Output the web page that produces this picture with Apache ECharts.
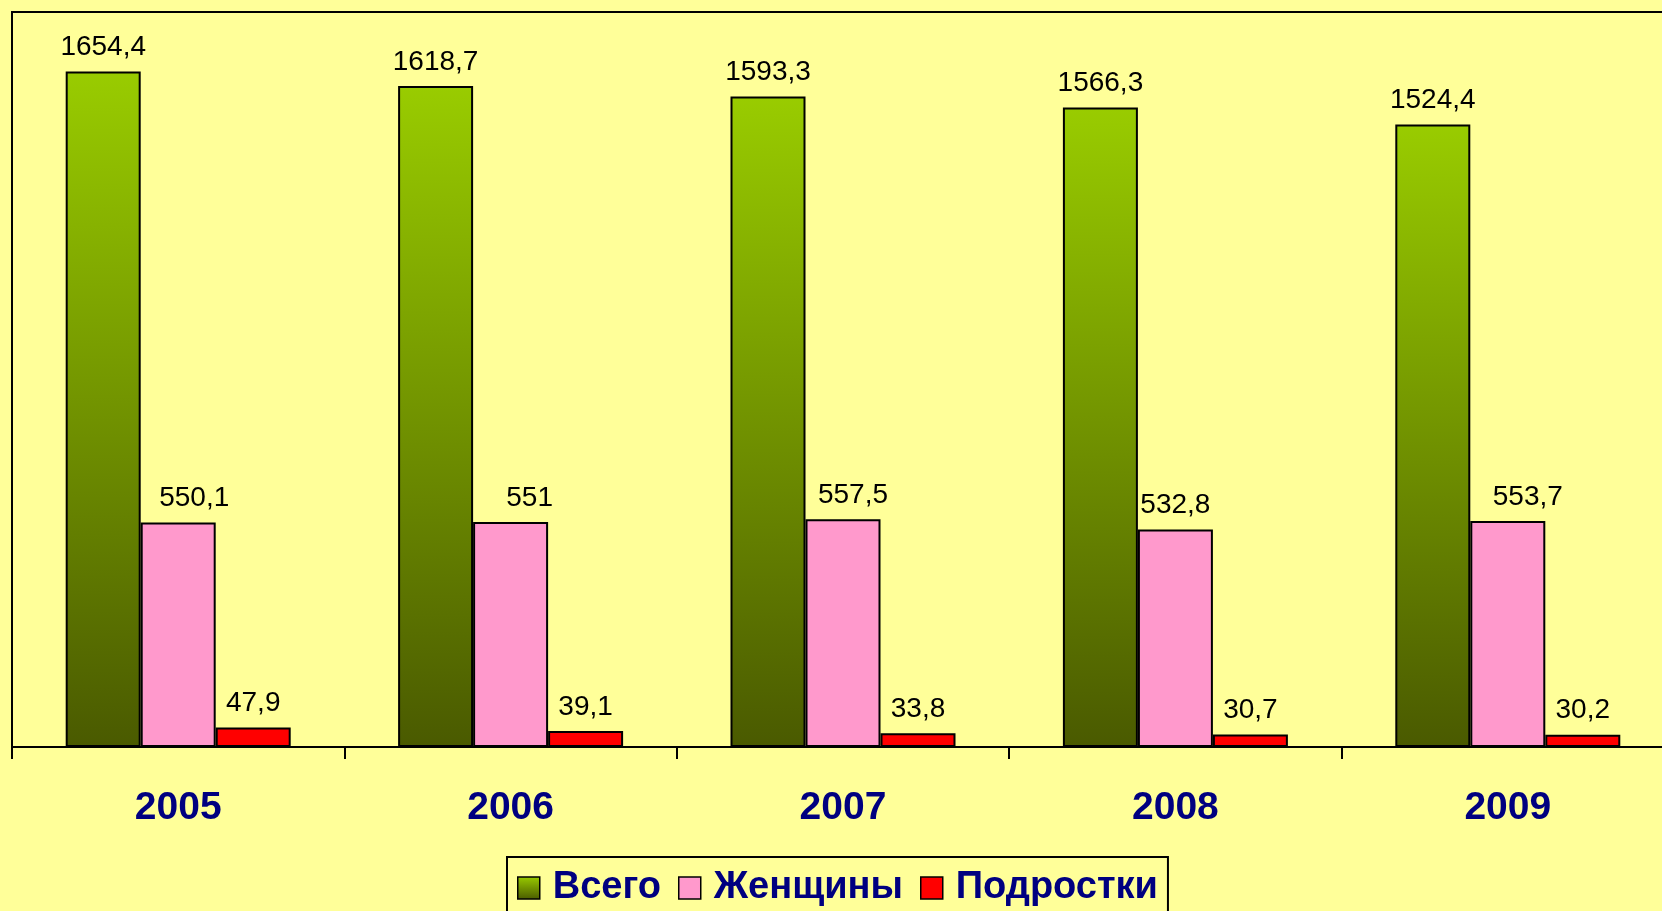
<!DOCTYPE html>
<html>
<head>
<meta charset="utf-8">
<script src="https://cdn.jsdelivr.net/npm/echarts@6/dist/echarts.min.js"></script>
<style>
  html, body { margin: 0; padding: 0; background: #ffff99; }
  #chart { width: 1662px; height: 911px; }
</style>
</head>
<body>
<div id="chart"></div>
<script>
// данные
const years = ["2005", "2006", "2007", "2008", "2009"]
const vsego = [1654.4, 1618.7, 1593.3, 1566.3, 1524.4]
const zhenshchiny = [550.1, 551, 557.5, 532.8, 553.7]
const podrostki = [47.9, 39.1, 33.8, 30.7, 30.2]

// сдвиг подписей розовых столбиков (как в исходнике)
const pinkLabelShift = [16, 19, 10, 0, 20]

const fmt = (p) => String(p.value).replace(".", ",")

const labelStyle = {
  show: true,
  position: "top",
  distance: 10,
  color: "#000",
  fontSize: 28,
  fontFamily: "Liberation Sans, Arial",
  formatter: fmt
}

const chart = echarts.init(document.getElementById("chart"))
chart.setOption({
  backgroundColor: "#ffff99",
  animation: false,
  grid: {
    left: 12,
    top: 12,
    width: 1662,
    height: 735,
    outerBoundsMode: "none",
    containLabel: false,
    show: true,
    borderColor: "#000",
    borderWidth: 2,
    backgroundColor: "#ffff99"
  },
  legend: {
    left: 507,
    top: 857,
    itemWidth: 22,
    itemHeight: 22,
    itemGap: 17,
    padding: [12, 10, 14, 10],
    borderColor: "#000",
    borderWidth: 2,
    icon: "rect",
    itemStyle: { borderColor: "#000", borderWidth: 1.5 },
    textStyle: {
      color: "#000080",
      fontSize: 38,
      fontWeight: "bold",
      fontFamily: "Liberation Sans, Arial",
      padding: [0, 0, 0, 8]
    },
    data: ["Всего", "Женщины", "Подростки"]
  },
  xAxis: {
    type: "category",
    data: years,
    axisLine: { lineStyle: { color: "#000", width: 2 } },
    axisTick: { show: true, length: 12, lineStyle: { color: "#000", width: 2 } },
    axisLabel: {
      margin: 42,
      color: "#000080",
      fontSize: 39,
      fontWeight: "bold",
      fontFamily: "Liberation Sans, Arial"
    }
  },
  yAxis: {
    type: "value",
    min: 0,
    max: 1800,
    show: false,
    splitLine: { show: false }
  },
  series: [
    {
      name: "Всего",
      type: "bar",
      barWidth: 75,
      barGap: "0%",
      data: vsego,
      itemStyle: {
        color: new echarts.graphic.LinearGradient(0, 0, 0, 1, [
          { offset: 0, color: "#99cc00" },
          { offset: 1, color: "#4a5a00" }
        ]),
        borderColor: "#000",
        borderWidth: 2
      },
      label: labelStyle
    },
    {
      name: "Женщины",
      type: "bar",
      barWidth: 75,
      barGap: "0%",
      data: zhenshchiny.map((v, i) => ({
        value: v,
        label: { offset: [pinkLabelShift[i], 0] }
      })),
      itemStyle: { color: "#ff99cc", borderColor: "#000", borderWidth: 2 },
      label: labelStyle
    },
    {
      name: "Подростки",
      type: "bar",
      barWidth: 75,
      barGap: "0%",
      data: podrostki,
      itemStyle: { color: "#ff0000", borderColor: "#000", borderWidth: 2 },
      label: labelStyle
    }
  ]
})
</script>
</body>
</html>
